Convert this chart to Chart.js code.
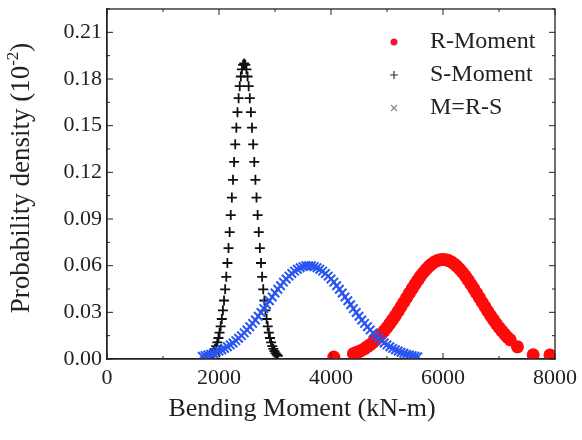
<!DOCTYPE html>
<html>
<head>
<meta charset="utf-8">
<script src="https://cdn.jsdelivr.net/npm/chart.js@4.4.1/dist/chart.umd.min.js"></script>
<style>
    html, body { margin: 0; padding: 0; background: #fff; }
    #wrap { width: 582px; height: 440px; }
</style>
</head>
<body>
<div id="wrap"><canvas id="myChart"></canvas></div>
<script>
// R-Moment (red dots)
const rMomentX = [4050, 4400, 4450, 4500, 4550, 4600, 4650, 4700, 4750, 4800, 4850, 4900, 4950,
    5000, 5050, 5100, 5150, 5200, 5250, 5300, 5350, 5400, 5450, 5500, 5550, 5600, 5650, 5700, 5750,
    5800, 5850, 5900, 5950, 6000, 6050, 6100, 6150, 6200, 6250, 6300, 6350, 6400, 6450, 6500, 6550,
    6600, 6650, 6700, 6750, 6800, 6850, 6900, 6950, 7000, 7050, 7100, 7150, 7200, 7330, 7610, 7910];
const rMomentY = [0.0013, 0.0034, 0.0041, 0.0048, 0.0057, 0.0067, 0.0079, 0.0092, 0.0107, 0.0123, 0.0140, 0.0160, 0.0181,
    0.0203, 0.0227, 0.0253, 0.0279, 0.0307, 0.0336, 0.0365, 0.0394, 0.0423, 0.0452, 0.0480, 0.0507, 0.0533, 0.0556, 0.0577, 0.0596,
    0.0611, 0.0624, 0.0633, 0.0638, 0.0640, 0.0638, 0.0633, 0.0624, 0.0611, 0.0596, 0.0577, 0.0556, 0.0533, 0.0507, 0.0480, 0.0452,
    0.0423, 0.0394, 0.0365, 0.0336, 0.0307, 0.0279, 0.0253, 0.0227, 0.0203, 0.0181, 0.0160, 0.0140, 0.0123, 0.0078, 0.0027, 0.0026];

// S-Moment (black +)
const sMomentX = [1850, 1870, 1890, 1910, 1930, 1950, 1970, 1990, 2010, 2030, 2050, 2070, 2090, 2110, 2130,
    2150, 2170, 2190, 2210, 2230, 2250, 2270, 2290, 2310, 2330, 2350, 2370, 2390, 2410, 2430, 2450,
    2470, 2490, 2510, 2530, 2550, 2570, 2590, 2610, 2630, 2650, 2670, 2690, 2710, 2730, 2750,
    2770, 2790, 2810, 2830, 2850, 2870, 2890, 2910, 2930, 2950, 2970, 2990, 3010, 3030, 3050];
const sMomentY = [0.0021, 0.0028, 0.0038, 0.0050, 0.0065, 0.0083, 0.0107, 0.0135, 0.0169, 0.0210, 0.0257, 0.0313, 0.0376, 0.0448, 0.0528,
    0.0617, 0.0713, 0.0816, 0.0925, 0.1038, 0.1152, 0.1267, 0.1380, 0.1487, 0.1587, 0.1677, 0.1754, 0.1816, 0.1862, 0.1891, 0.1900,
    0.1891, 0.1862, 0.1816, 0.1754, 0.1677, 0.1587, 0.1487, 0.1380, 0.1267, 0.1152, 0.1038, 0.0925, 0.0816, 0.0713, 0.0617,
    0.0528, 0.0448, 0.0376, 0.0313, 0.0257, 0.0210, 0.0169, 0.0135, 0.0107, 0.0083, 0.0065, 0.0050, 0.0038, 0.0028, 0.0021];

// M=R-S (blue x)
const mMomentX = [1700, 1750, 1800, 1850, 1900, 1950, 2000, 2050, 2100, 2150, 2200, 2250, 2300, 2350, 2400, 2450,
    2500, 2550, 2600, 2650, 2700, 2750, 2800, 2850, 2900, 2950, 3000, 3050, 3100, 3150, 3200, 3250,
    3300, 3350, 3400, 3450, 3500, 3550, 3600, 3650, 3700, 3750, 3800, 3850, 3900, 3950, 4000, 4050,
    4100, 4150, 4200, 4250, 4300, 4350, 4400, 4450, 4500, 4550, 4600, 4650, 4700, 4750, 4800, 4850,
    4900, 4950, 5000, 5050, 5100, 5150, 5200, 5250, 5300, 5350, 5400, 5450, 5500, 5550];
const mMomentY = [0.0018, 0.0022, 0.0026, 0.0031, 0.0037, 0.0043, 0.0051, 0.0059, 0.0068, 0.0079, 0.0091, 0.0103, 0.0118, 0.0133, 0.0150, 0.0168,
    0.0187, 0.0207, 0.0229, 0.0251, 0.0275, 0.0299, 0.0324, 0.0349, 0.0374, 0.0399, 0.0424, 0.0448, 0.0471, 0.0494, 0.0514, 0.0533,
    0.0550, 0.0565, 0.0577, 0.0587, 0.0594, 0.0599, 0.0600, 0.0599, 0.0594, 0.0587, 0.0577, 0.0565, 0.0550, 0.0533, 0.0514, 0.0494,
    0.0471, 0.0448, 0.0424, 0.0399, 0.0374, 0.0349, 0.0324, 0.0299, 0.0275, 0.0251, 0.0229, 0.0207, 0.0187, 0.0168, 0.0150, 0.0133,
    0.0118, 0.0103, 0.0091, 0.0079, 0.0068, 0.0059, 0.0051, 0.0043, 0.0037, 0.0031, 0.0026, 0.0022, 0.0018, 0.0015];

const xTicks = [0, 2000, 4000, 6000, 8000];
const yTicks = [0, 0.03, 0.06, 0.09, 0.12, 0.15, 0.18, 0.21];

const seriesLabels = ['R-Moment', 'S-Moment', 'M=R-S'];

const serif = "'Liberation Serif', 'Times New Roman', serif";

function toPoints(xs, ys) {
    return xs.map((x, i) => ({x: x, y: ys[i]}));
}

// frame, inward ticks, axis titles and legend
const decor = {
    id: 'decor',
    afterDatasetsDraw(chart) {
        const {ctx, chartArea: a, scales: {x, y}} = chart;
        ctx.save();
        ctx.strokeStyle = '#222';
        ctx.lineWidth = 1.3;
        ctx.strokeRect(a.left, a.top, a.right - a.left, a.bottom - a.top);

        ctx.lineWidth = 1;
        ctx.beginPath();
        xTicks.forEach((v, i) => {
            const px = x.getPixelForValue(v);
            ctx.moveTo(px, a.bottom); ctx.lineTo(px, a.bottom - 6);
            ctx.moveTo(px, a.top); ctx.lineTo(px, a.top + 6);
            if (i < xTicks.length - 1) {
                const mx = x.getPixelForValue((v + xTicks[i + 1]) / 2);
                ctx.moveTo(mx, a.bottom); ctx.lineTo(mx, a.bottom - 3);
                ctx.moveTo(mx, a.top); ctx.lineTo(mx, a.top + 3);
            }
        });
        yTicks.forEach((v, i) => {
            const py = y.getPixelForValue(v);
            ctx.moveTo(a.left, py); ctx.lineTo(a.left + 6, py);
            ctx.moveTo(a.right, py); ctx.lineTo(a.right - 6, py);
            const next = i < yTicks.length - 1 ? yTicks[i + 1] : v + 0.03;
            const my = y.getPixelForValue((v + next) / 2);
            if (my > a.top) {
                ctx.moveTo(a.left, my); ctx.lineTo(a.left + 3, my);
                ctx.moveTo(a.right, my); ctx.lineTo(a.right - 3, my);
            }
        });
        ctx.stroke();

        // axis titles
        ctx.fillStyle = '#222';
        ctx.textBaseline = 'middle';
        ctx.textAlign = 'center';
        ctx.font = '26px ' + serif;
        ctx.fillText('Bending Moment (kN-m)', 302, 409);

        ctx.save();
        ctx.translate(22, 178);
        ctx.rotate(-Math.PI / 2);
        ctx.font = '27px ' + serif;
        const main = 'Probability density (10';
        const sup = '-2';
        const close = ')';
        const wMain = ctx.measureText(main).width;
        const wClose = ctx.measureText(close).width;
        ctx.font = '17px ' + serif;
        const wSup = ctx.measureText(sup).width;
        let sx = -(wMain + wSup + wClose) / 2;
        ctx.textAlign = 'left';
        ctx.font = '27px ' + serif;
        ctx.fillText(main, sx, 0);
        sx += wMain;
        ctx.font = '17px ' + serif;
        ctx.fillText(sup, sx, -8);
        sx += wSup;
        ctx.font = '27px ' + serif;
        ctx.fillText(close, sx, 0);
        ctx.restore();

        // legend
        const lx = 394, tx = 430;
        const rows = [42, 75, 108];
        ctx.font = '24px ' + serif;
        ctx.textAlign = 'left';
        ctx.fillStyle = '#222';
        seriesLabels.forEach((label, i) => ctx.fillText(label, tx, rows[i]));

        ctx.fillStyle = '#e8183a';
        ctx.beginPath();
        ctx.arc(lx, rows[0], 3.5, 0, Math.PI * 2);
        ctx.fill();

        ctx.strokeStyle = '#333';
        ctx.lineWidth = 1.2;
        ctx.beginPath();
        ctx.moveTo(lx - 4, rows[1]); ctx.lineTo(lx + 4, rows[1]);
        ctx.moveTo(lx, rows[1] - 4); ctx.lineTo(lx, rows[1] + 4);
        ctx.stroke();

        ctx.strokeStyle = '#888';
        ctx.beginPath();
        ctx.moveTo(lx - 3, rows[2] - 3); ctx.lineTo(lx + 3, rows[2] + 3);
        ctx.moveTo(lx - 3, rows[2] + 3); ctx.lineTo(lx + 3, rows[2] - 3);
        ctx.stroke();
        ctx.restore();
    }
};

const ctx = document.getElementById('myChart');

new Chart(ctx, {
    type: 'scatter',
    data: {
        datasets: [
            {
                label: seriesLabels[0],
                data: toPoints(rMomentX, rMomentY),
                pointStyle: 'circle',
                pointRadius: 6.5,
                backgroundColor: '#ff0a0a',
                borderColor: '#ff0a0a',
                borderWidth: 0,
                order: 3
            },
            {
                label: seriesLabels[1],
                data: toPoints(sMomentX, sMomentY),
                pointStyle: 'cross',
                pointRadius: 5,
                borderColor: '#111',
                borderWidth: 1.8,
                order: 2
            },
            {
                label: seriesLabels[2],
                data: toPoints(mMomentX, mMomentY),
                pointStyle: 'crossRot',
                pointRadius: 6,
                borderColor: '#2a55f0',
                borderWidth: 2,
                order: 1
            }
        ]
    },
    options: {
        responsive: true,
        maintainAspectRatio: false,
        animation: false,
        layout: {padding: {top: 9, right: 27, left: 0, bottom: 0}},
        plugins: {
            legend: {display: false},
            tooltip: {enabled: false}
        },
        scales: {
            x: {
                type: 'linear',
                min: 0,
                max: 8000,
                afterBuildTicks: scale => { scale.ticks = xTicks.map(v => ({value: v})); },
                afterFit: scale => { scale.height = 81; scale.paddingLeft = 0; scale.paddingRight = 0; },
                ticks: {
                    color: '#222',
                    font: {family: serif, size: 22},
                    padding: 6,
                    maxRotation: 0,
                    callback: v => String(v)
                },
                grid: {display: false, drawTicks: false},
                border: {display: true, color: '#222', width: 1.3}
            },
            y: {
                min: 0,
                max: 0.225,
                afterBuildTicks: scale => { scale.ticks = yTicks.map(v => ({value: v})); },
                afterFit: scale => { scale.width = 107; scale.paddingTop = 0; scale.paddingBottom = 0; },
                ticks: {
                    color: '#222',
                    font: {family: serif, size: 22},
                    padding: 5,
                    callback: v => v.toFixed(2)
                },
                grid: {display: false, drawTicks: false},
                border: {display: true, color: '#222', width: 1.3}
            }
        }
    },
    plugins: [decor]
});
</script>
</body>
</html>
